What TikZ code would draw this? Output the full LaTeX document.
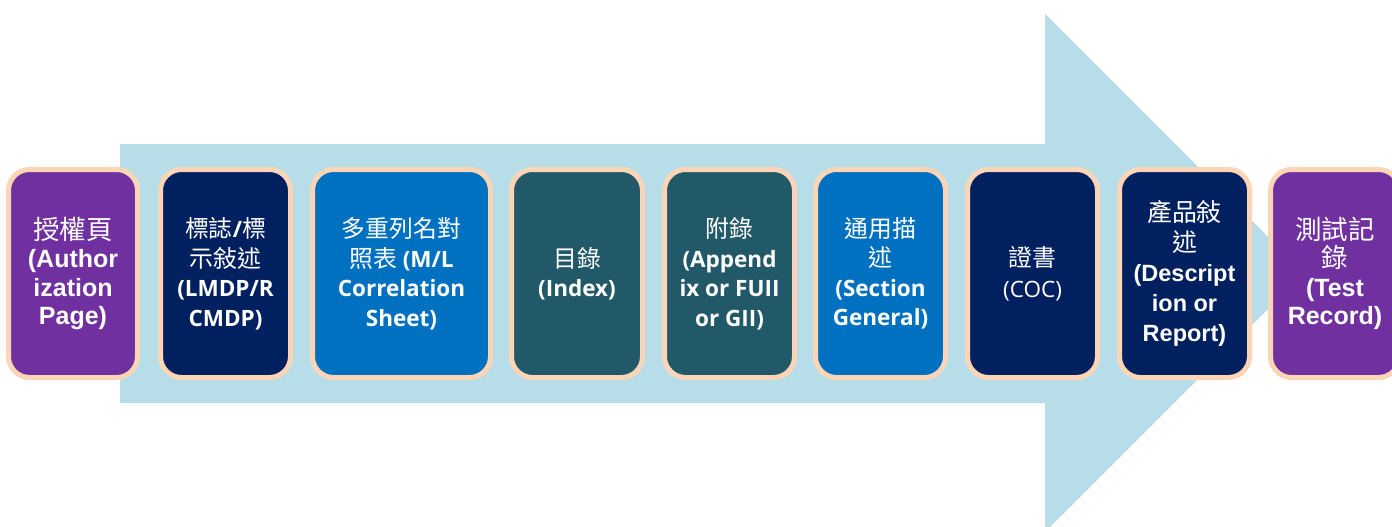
\documentclass[tikz,border=0pt]{standalone}
\usepackage{fontspec}
\setmainfont{Liberation Sans}
\newfontfamily\cjk{Noto Sans CJK TC}[Scale=1.06]
\newfontfamily\osans{Open Sans}
\newcommand{\zhtxt}[1]{{\cjk\mdseries #1}}
\definecolor{arrowblue}{HTML}{B7DEE8}
\definecolor{peach}{HTML}{FBD5B5}
\definecolor{cpurple}{HTML}{7030A0}
\definecolor{cnavy}{HTML}{002060}
\definecolor{cblue}{HTML}{0070C0}
\definecolor{cteal}{HTML}{215968}
\begin{document}
\begin{tikzpicture}[x=1pt,y=-1pt,
  card/.style={draw=peach, line width=5pt, rounded corners=21pt, minimum width=130pt,
    minimum height=208pt, inner sep=0pt, align=center, text=white},
  arialtxt/.style={font={\fontsize{25}{28.5}\selectfont\bfseries}},
  opentxt/.style={font={\fontsize{22.5}{29.5}\selectfont\osans\bfseries}},
  openreg/.style={font={\fontsize{22.5}{31}\selectfont\osans}}]
\useasboundingbox (0,0) rectangle (1392,527);
\clip (0,0) rectangle (1392,527);
% big arrow
\fill[arrowblue] (120,144) -- (1045,144) -- (1045,14) -- (1304,273) -- (1045,532) -- (1045,403) -- (120,403) -- cycle;
% cards
\node[card, fill=cpurple, minimum width=129pt, arialtxt] (b1) at (73,273.5)
  {\zhtxt{授權頁}\\(Author\\ization\\Page)};
\node[card, fill=cnavy, opentxt] (b2) at (225.5,273.5)
  {\zhtxt{標誌}/\zhtxt{標}\\\zhtxt{示敍述}\\(LMDP/R\\CMDP)};
\node[card, fill=cblue, minimum width=178pt, opentxt] (b3) at (401.5,273.5)
  {\zhtxt{多重列名對}\\\zhtxt{照表} (M/L\\Correlation\\Sheet)};
\node[card, fill=cteal, minimum width=131pt, opentxt] (b4) at (577,273.5)
  {\zhtxt{目錄}\\(Index)};
\node[card, fill=cteal, opentxt] (b5) at (729.5,273.5)
  {\zhtxt{附錄}\\(Append\\ix or FUII\\or GII)};
\node[card, fill=cblue, opentxt] (b6) at (880.5,273.5)
  {\zhtxt{通用描}\\\zhtxt{述}\\(Section\\General)};
\node[card, fill=cnavy, openreg] (b7) at (1032.5,273.5)
  {\zhtxt{證書}\\(COC)};
\node[card, fill=cnavy, font={\fontsize{23.5}{30}\selectfont\bfseries}] (b8) at (1184.5,273.5)
  {\zhtxt{產品敍}\\\zhtxt{述}\\(Descript\\ion or\\Report)};
\node[card, fill=cpurple, minimum width=129pt, arialtxt] (b9) at (1335,273.5)
  {\zhtxt{測試記}\\\zhtxt{錄}\\(Test\\Record)};
\end{tikzpicture}
\end{document}
